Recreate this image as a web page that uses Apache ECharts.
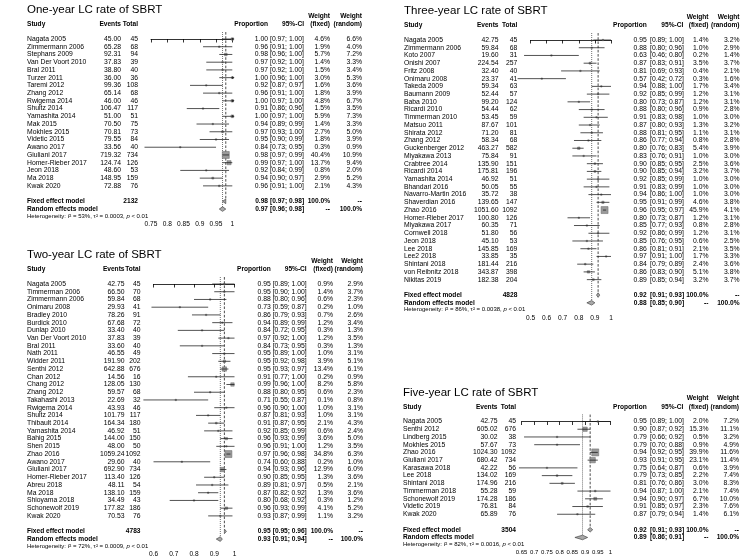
<!DOCTYPE html>
<html><head><meta charset="utf-8">
<script src="https://cdn.jsdelivr.net/npm/echarts@6/dist/echarts.min.js"></script>
<style>html,body{margin:0;padding:0;background:#fff}#c{width:756px;height:560px}</style>
</head><body><div id="c"></div>
<script>
// ================= DATA =================
// One-year
const oneStudy = ['Nagata 2005','Zimmermann 2006','Stephans 2009','Van Der Voort 2010','Bral 2011','Turzer 2011','Taremi 2012','Zhang 2012','Rwigema 2014','Shultz 2014','Yamashita 2014','Mak 2015','Mokhles 2015','Videtic 2015','Awano 2017','Giuliani 2017','Homer-Rieber 2017','Jeon 2018','Ma 2018','Kwak 2020'];
const oneEvents = [45.00,65.28,92.31,37.83,38.80,36.00,99.36,65.14,46.00,106.47,51.00,70.50,70.81,79.55,33.56,719.32,124.74,48.60,148.95,72.88];
const oneTotal = [45,68,94,39,40,36,108,68,46,117,51,75,73,84,40,734,126,53,159,76];
const oneProp = [1.00,0.96,0.98,0.97,0.97,1.00,0.92,0.96,1.00,0.91,1.00,0.94,0.97,0.95,0.84,0.98,0.99,0.92,0.94,0.96];
const oneLo = [0.97,0.91,0.96,0.92,0.92,0.96,0.87,0.91,0.97,0.86,0.97,0.89,0.93,0.90,0.73,0.97,0.97,0.84,0.90,0.91];
const oneHi = [1.00,1.00,1.00,1.00,1.00,1.00,0.97,1.00,1.00,0.96,1.00,0.99,1.00,0.99,0.95,0.99,1.00,0.99,0.97,1.00];
const oneWF = [4.6,1.9,5.7,1.4,1.5,3.0,1.6,1.8,4.8,1.5,5.9,1.4,2.7,1.8,0.3,40.4,13.7,0.8,2.9,2.1];
const oneWR = [6.6,4.0,7.2,3.3,3.4,5.3,3.6,3.9,6.7,3.5,7.3,3.3,5.0,3.9,0.9,10.9,9.4,2.0,5.2,4.3];
const oneFixed = [0.98,0.97,0.98];
const oneRandom = [0.97,0.96,0.98];
const oneN = 2132;
const oneHet = ['53%','0.0003','< 0.01'];
const oneTicks = [0.75,0.8,0.85,0.9,0.95,1];

// Three-year
const threeStudy = ['Nagata 2005','Zimmermann 2006','Koto 2007','Onishi 2007','Fritz 2008','Onimaru 2008','Takeda 2009','Baumann 2009','Baba 2010','Ricardi 2010','Timmerman 2010','Matsuo 2011','Shirata 2012','Zhang 2012','Guckenberger 2012','Miyakawa 2013','Crabtree 2014','Ricardi 2014','Yamashita 2014','Bhandari 2016','Navarro-Martin 2016','Shaverdian 2016','Zhao 2016','Homer-Rieber 2017','Miyakawa 2017','Cornwell 2018','Jeon 2018','Lee 2018','Lee2 2018','Shintani 2018','von Reibnitz 2018','Nikitas 2019'];
const threeEvents = [42.75,59.84,19.60,224.54,32.40,23.37,59.34,52.44,99.20,54.44,53.45,87.67,71.20,58.34,463.27,75.84,135.90,175.81,46.92,50.05,35.72,139.65,1051.60,100.80,60.35,51.80,45.10,145.85,33.85,181.44,343.87,182.38];
const threeTotal = [45,68,31,257,40,41,63,57,124,62,59,101,81,68,582,91,151,196,51,55,38,147,1092,126,71,56,53,169,35,216,398,204];
const threeProp = [0.95,0.88,0.63,0.87,0.81,0.57,0.94,0.92,0.80,0.88,0.91,0.87,0.88,0.86,0.80,0.83,0.90,0.90,0.92,0.91,0.94,0.95,0.96,0.80,0.85,0.92,0.85,0.86,0.97,0.84,0.86,0.89];
const threeLo = [0.89,0.80,0.46,0.83,0.69,0.42,0.88,0.85,0.73,0.80,0.83,0.80,0.81,0.77,0.76,0.76,0.85,0.85,0.85,0.83,0.86,0.91,0.95,0.73,0.77,0.86,0.76,0.81,0.91,0.79,0.83,0.85];
const threeHi = [1.00,0.96,0.80,0.91,0.93,0.72,1.00,0.99,0.87,0.96,0.98,0.93,0.95,0.94,0.83,0.91,0.95,0.94,0.99,0.99,1.00,0.99,0.97,0.87,0.93,0.99,0.95,0.91,1.00,0.89,0.90,0.94];
const threeWF = [1.4,1.0,0.2,3.5,0.4,0.3,1.7,1.2,1.2,0.9,1.0,1.3,1.1,0.8,5.4,1.0,2.5,3.2,1.0,1.0,1.0,4.6,45.9,1.2,0.8,1.2,0.6,2.1,1.7,2.4,5.1,3.2];
const threeWR = [3.2,2.9,1.4,3.7,2.1,1.6,3.4,3.1,3.1,2.8,3.0,3.2,3.1,2.8,3.9,3.0,3.6,3.7,3.0,3.0,3.0,3.8,4.1,3.1,2.8,3.1,2.5,3.5,3.3,3.6,3.8,3.7];
const threeFixed = [0.92,0.91,0.93];
const threeRandom = [0.88,0.85,0.90];
const threeN = 4828;
const threeHet = ['86%','0.0038','< 0.01'];
const threeTicks = [0.5,0.6,0.7,0.8,0.9,1];

// Two-year
const twoStudy = ['Nagata 2005','Timmerman 2006','Zimmermann 2006','Onimaru 2008','Bradley 2010','Burdick 2010','Dunlap 2010','Van Der Voort 2010','Bral 2011','Nath 2011','Widder 2011','Senthi 2012','Chan 2012','Chang 2012','Zhang 2012','Takahashi 2013','Rwigema 2014','Shultz 2014','Thibault 2014','Yamashita 2014','Bahig 2015','Shen 2015','Zhao 2016','Awano 2017','Giuliani 2017','Homer-Rieber 2017','Abreu 2018','Ma 2018','Shioyama 2018','Schonewolf 2019','Kwak 2020'];
const twoEvents = [42.75,66.50,59.84,29.93,78.26,67.68,33.40,37.83,33.60,46.55,191.90,642.88,14.56,128.05,59.57,22.69,43.93,101.79,164.34,46.92,144.00,48.00,1059.24,29.60,692.90,113.40,48.11,138.10,34.49,177.82,70.53];
const twoTotal = [45,70,68,41,91,72,40,39,40,49,202,676,16,130,68,32,46,117,180,51,150,50,1092,40,734,126,54,159,43,186,76];
const twoProp = [0.95,0.95,0.88,0.73,0.86,0.94,0.84,0.97,0.84,0.95,0.95,0.95,0.91,0.99,0.88,0.71,0.96,0.87,0.91,0.92,0.96,0.96,0.97,0.74,0.94,0.90,0.89,0.87,0.80,0.96,0.93];
const twoLo = [0.89,0.90,0.80,0.59,0.79,0.89,0.72,0.92,0.73,0.89,0.92,0.93,0.77,0.96,0.80,0.55,0.90,0.81,0.87,0.85,0.93,0.91,0.96,0.60,0.93,0.85,0.81,0.82,0.68,0.93,0.87];
const twoHi = [1.00,1.00,0.96,0.87,0.93,0.99,0.95,1.00,0.95,1.00,0.98,0.97,1.00,1.00,0.95,0.87,1.00,0.93,0.95,0.99,0.99,1.00,0.98,0.88,0.96,0.95,0.97,0.92,0.92,0.99,0.99];
const twoWF = [0.9,1.4,0.6,0.2,0.7,1.2,0.3,1.2,0.3,1.0,3.9,13.4,0.2,8.2,0.6,0.1,1.0,1.0,2.1,0.6,3.6,1.2,34.8,0.2,12.9,1.3,0.5,1.3,0.3,4.1,1.1];
const twoWR = [2.9,3.7,2.3,1.0,2.6,3.4,1.3,3.5,1.3,3.1,5.1,6.1,0.9,5.8,2.3,0.8,3.1,3.1,4.3,2.4,5.0,3.5,6.3,1.0,6.0,3.6,2.1,3.6,1.2,5.2,3.2];
const twoFixed = [0.95,0.95,0.96];
const twoRandom = [0.93,0.91,0.94];
const twoN = 4783;
const twoHet = ['72%','0.0009','< 0.01'];
const twoTicks = [0.6,0.7,0.8,0.9,1];

// Five-year
const fiveStudy = ['Nagata 2005','Senthi 2012','Lindberg 2015','Mokhles 2015','Zhao 2016','Giuliani 2017','Karasawa 2018','Lee 2018','Shintani 2018','Timmerman 2018','Schonewolf 2019','Videtic 2019','Kwak 2020'];
const fiveEvents = [42.75,605.02,30.02,57.67,1024.30,680.42,42.22,134.02,174.96,55.28,174.28,76.81,65.89];
const fiveTotal = [45,676,38,73,1092,734,56,169,216,59,186,84,76];
const fiveProp = [0.95,0.90,0.79,0.79,0.94,0.93,0.75,0.79,0.81,0.94,0.94,0.91,0.87];
const fiveLo = [0.89,0.87,0.66,0.70,0.92,0.91,0.64,0.73,0.76,0.87,0.90,0.85,0.79];
const fiveHi = [1.00,0.92,0.92,0.88,0.95,0.95,0.87,0.85,0.86,1.00,0.97,0.97,0.94];
const fiveWF = [2.0,15.3,0.5,0.9,39.9,23.1,0.6,2.2,3.0,2.1,6.7,2.3,1.4];
const fiveWR = [7.2,11.1,3.2,4.9,11.6,11.4,3.9,7.4,8.3,7.4,10.0,7.6,6.1];
const fiveFixed = [0.92,0.91,0.93];
const fiveRandom = [0.89,0.86,0.91];
const fiveN = 3504;
const fiveHet = ['82%','0.0016','< 0.01'];
const fiveTicks = [0.65,0.7,0.75,0.8,0.85,0.9,0.95,1];

// ================= LAYOUT / STYLE =================
const STEP = 7.73;
const FF = '"Liberation Sans", Arial, Helvetica, sans-serif';
const FS_ROW = 6.8, FS_SUM = 6.6, FS_HEAD = 6.6, FS_TITLE = 11.5, FS_HET = 6;
const SQ_MAX = 7;

const panels = [
  {title:'One-year LC rate of SBRT', study:oneStudy, events:oneEvents, total:oneTotal, prop:oneProp, lo:oneLo, hi:oneHi, wf:oneWF, wr:oneWR, fixed:oneFixed, random:oneRandom, n:oneN, het:oneHet, ticks:oneTicks,
   L:{rowTop:39, gridL:151, gridR:232.3, x0:27, ev:121, tot:138, prop:268, ciL:270, ciR:304, wf:330, wr:362, tick:6.6}},
  {title:'Three-year LC rate of SBRT', study:threeStudy, events:threeEvents, total:threeTotal, prop:threeProp, lo:threeLo, hi:threeHi, wf:threeWF, wr:threeWR, fixed:threeFixed, random:threeRandom, n:threeN, het:threeHet, ticks:threeTicks,
   L:{rowTop:40, gridL:530.5, gridR:611, x0:404, ev:498.5, tot:517.3, prop:646.7, ciL:650, ciR:683.3, wf:708.5, wr:739.5, tick:6.6}},
  {title:'Two-year LC rate of SBRT', study:twoStudy, events:twoEvents, total:twoTotal, prop:twoProp, lo:twoLo, hi:twoHi, wf:twoWF, wr:twoWR, fixed:twoFixed, random:twoRandom, n:twoN, het:twoHet, ticks:twoTicks,
   L:{rowTop:284, gridL:153.5, gridR:234.5, x0:27, ev:124.5, tot:140.5, prop:270.7, ciL:272.7, ciR:306.7, wf:333, wr:363, tick:6.6}},
  {title:'Five-year LC rate of SBRT', study:fiveStudy, events:fiveEvents, total:fiveTotal, prop:fiveProp, lo:fiveLo, hi:fiveHi, wf:fiveWF, wr:fiveWR, fixed:fiveFixed, random:fiveRandom, n:fiveN, het:fiveHet, ticks:fiveTicks,
   L:{rowTop:421.5, gridL:521.5, gridR:610.5, x0:403, ev:497.5, tot:516, prop:646.7, ciL:650, ciR:683.3, wf:708.5, wr:739, tick:6}}
];

const f2 = v => v.toFixed(2);
const ci = (a,b) => '[' + f2(a) + '; ' + f2(b) + ']';
const pct = v => v.toFixed(1) + '%';

function makeRender(p){
  const L = p.L;
  const nS = p.study.length;
  const fixedRow = nS + 1, randomRow = nS + 2;
  const maxW = Math.max.apply(null, p.wf);
  const xmin = p.ticks[0];
  return function(params, api){
    const kind = api.value(2);
    const idx = api.value(3);
    const Y = r => api.coord([xmin, r])[1];
    const X = v => api.coord([v, 0])[0];
    const ch = [];
    const txt = (x, y, t, align, bold, size) => ch.push({type:'text', silent:true, style:{
      x:x, y:y, text:t, align:align, verticalAlign:'middle', fontSize:size || FS_ROW,
      fontWeight: bold ? 'bold' : 'normal', fontFamily:FF, fill:'#000'}});
    const DH = 2.3;
    if (kind === 5) { // reference lines
      const yTop = Y(-0.9);
      ch.push({type:'line', shape:{x1:X(p.fixed[0]), y1:yTop, x2:X(p.fixed[0]), y2:Y(fixedRow)-DH},
        style:{stroke:'#000', lineWidth:0.7, lineDash:[2.6,1.6]}});
      ch.push({type:'line', shape:{x1:X(p.random[0]), y1:yTop, x2:X(p.random[0]), y2:Y(randomRow)-DH},
        style:{stroke:'#000', lineWidth:0.7, lineDash:[0.8,1.2]}});
    } else if (kind === 3) { // header
      txt(L.x0, Y(-3.75), p.title, 'left', false, FS_TITLE);
      const yW = Y(-2.97), yH = Y(-1.91);
      txt(L.wf, yW, 'Weight', 'right', true, FS_HEAD);
      txt(L.wr, yW, 'Weight', 'right', true, FS_HEAD);
      txt(L.x0, yH, 'Study', 'left', true, FS_HEAD);
      txt(L.ev, yH, 'Events', 'right', true, FS_HEAD);
      txt(L.tot, yH, 'Total', 'right', true, FS_HEAD);
      txt(L.prop, yH, 'Proportion', 'right', true, FS_HEAD);
      txt(L.ciR, yH, '95%-CI', 'right', true, FS_HEAD);
      txt(L.wf, yH, '(fixed)', 'right', true, FS_HEAD);
      txt(L.wr, yH, '(random)', 'right', true, FS_HEAD);
    } else if (kind === 0) { // study row
      const i = idx, y = Y(api.value(1));
      const xl = X(p.lo[i]), xh = X(p.hi[i]), xp = X(p.prop[i]);
      const s = Math.max(1.4, SQ_MAX * Math.sqrt(p.wf[i] / maxW));
      ch.push({type:'rect', shape:{x:xp - s/2, y:y - s/2, width:s, height:s},
        style:{fill:'#9a9a9a', stroke:'#6a6a6a', lineWidth:0.5}});
      ch.push({type:'line', shape:{x1:xl, y1:y, x2:xh, y2:y}, style:{stroke:'#1a1a1a', lineWidth:0.75}});
      if (p.prop[i] >= 1) {
        ch.push({type:'polygon', shape:{points:[[xh+2.2, y],[xh-0.2, y-1.3],[xh-0.2, y+1.3]]}, style:{fill:'#1a1a1a'}});
      }
      txt(L.x0, y, p.study[i], 'left');
      txt(L.ev, y, f2(p.events[i]), 'right');
      txt(L.tot, y, String(p.total[i]), 'right');
      txt(L.prop, y, f2(p.prop[i]), 'right');
      txt(L.ciL, y, ci(p.lo[i], p.hi[i]), 'left');
      txt(L.wf, y, pct(p.wf[i]), 'right');
      txt(L.wr, y, pct(p.wr[i]), 'right');
    } else if (kind === 1 || kind === 2) { // summary
      const est = kind === 1 ? p.fixed : p.random;
      const y = Y(api.value(1));
      ch.push({type:'polygon', shape:{points:[[X(est[1]), y],[X(est[0]), y-DH],[X(est[2]), y],[X(est[0]), y+DH]]},
        style:{fill:'#a8a8a8', stroke:'#333', lineWidth:0.6}});
      txt(L.x0, y, kind === 1 ? 'Fixed effect model' : 'Random effects model', 'left', true, FS_SUM);
      if (kind === 1) txt(L.tot, y, String(p.n), 'right', true, FS_SUM);
      txt(L.prop, y, f2(est[0]), 'right', true, FS_SUM);
      txt(L.ciL, y, ci(est[1], est[2]), 'left', true, FS_SUM);
      txt(L.wf, y, kind === 1 ? '100.0%' : '--', 'right', true, FS_SUM);
      txt(L.wr, y, kind === 1 ? '--' : '100.0%', 'right', true, FS_SUM);
    } else if (kind === 4) { // heterogeneity
      const y = Y(api.value(1));
      ch.push({type:'text', silent:true, style:{x:L.x0, y:y, align:'left', verticalAlign:'middle',
        text:'{t|Heterogeneity: }{i|I}{t|² = ' + p.het[0] + ', τ² = ' + p.het[1] + ', }{i|p}{t| ' + p.het[2] + '}',
        rich:{t:{fontSize:FS_HET, fontFamily:FF, fill:'#000'}, i:{fontSize:FS_HET, fontFamily:FF, fontStyle:'italic', fill:'#000'}}}});
    }
    return {type:'group', children:ch};
  };
}

const option = {animation:false, backgroundColor:'#fff', grid:[], xAxis:[], yAxis:[], series:[]};
panels.forEach((p, k) => {
  const L = p.L;
  const nS = p.study.length;
  const nRand = nS + 2;
  const xmin = p.ticks[0], xmax = p.ticks[p.ticks.length-1];
  const interval = Math.round((p.ticks[1] - p.ticks[0]) * 1e6) / 1e6;
  option.grid.push({left:L.gridL, top:L.rowTop - STEP, width:L.gridR - L.gridL, height:(nRand + 1.5) * STEP,
    containLabel:false, outerBoundsMode:'none'});
  option.xAxis.push({type:'value', gridIndex:k, min:xmin, max:xmax, interval:interval,
    axisLine:{show:true, lineStyle:{color:'#000', width:0.8}},
    axisTick:{show:true, length:3.5, lineStyle:{color:'#000', width:0.8}},
    axisLabel:{fontSize:L.tick, color:'#000', margin:8, fontFamily:FF, hideOverlap:false, showMinLabel:true, showMaxLabel:true},
    splitLine:{show:false}});
  option.yAxis.push({type:'value', gridIndex:k, min:-1, max:nRand + 0.5, inverse:true, show:false});
  const data = [[xmin, -1, 5, 0], [xmin, -2, 3, 0]];
  for (let i = 0; i < nS; i++) data.push([xmin, i, 0, i]);
  data.push([xmin, nS + 1, 1, 0]);
  data.push([xmin, nS + 2, 2, 0]);
  data.push([xmin, nS + 2.9, 4, 0]);
  option.series.push({type:'custom', coordinateSystem:'cartesian2d', xAxisIndex:k, yAxisIndex:k,
    clip:false, silent:true, renderItem:makeRender(p), data:data, encode:{x:0, y:1}});
});

const chart = echarts.init(document.getElementById('c'), null, {renderer:'canvas'});
chart.setOption(option);
</script>
</body></html>
